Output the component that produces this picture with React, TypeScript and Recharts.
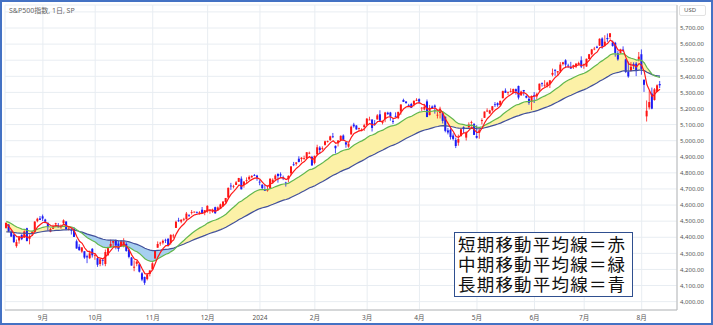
import React from "react";
import { Area, Bar, CartesianGrid, ComposedChart, Line, XAxis, YAxis } from "recharts";

type Ohlc = [number, number, number, number];

// closes before the visible range, used only to warm up the moving averages
const priorCloses = [
  4221, 4282, 4273, 4283, 4268, 4293, 4299, 4338, 4369, 4373, 4426, 4410, 4389, 4366, 4381, 4348, 4328, 4378,
  4376, 4396, 4450, 4455, 4447, 4412, 4399, 4410, 4439, 4472, 4510, 4505, 4523, 4555, 4566, 4535, 4536, 4554,
  4567, 4566, 4538, 4582, 4589, 4577, 4513, 4502, 4478, 4518, 4499, 4468, 4468, 4464,
];
const seedShort = 4190;
const seedMid = 4170;
const seedLong = 4130;

const SHORT_PERIOD = 5;
const MID_PERIOD = 20;
const LONG_PERIOD = 50;

// [open, high, low, close]
const aug2023: Ohlc[] = [
  [4458, 4490, 4453, 4490], [4479, 4482, 4432, 4437], [4434, 4449, 4403, 4404], [4416, 4421, 4365, 4370],
  [4345, 4386, 4335, 4370], [4380, 4407, 4360, 4400], [4415, 4418, 4382, 4388], [4397, 4443, 4397, 4436],
  [4456, 4459, 4375, 4376], [4390, 4418, 4356, 4406], [4427, 4440, 4412, 4433], [4433, 4500, 4431, 4497],
  [4500, 4521, 4493, 4515], [4517, 4532, 4507, 4508],
];
const sep2023: Ohlc[] = [
  [4530, 4541, 4501, 4516], [4510, 4515, 4487, 4497], [4490, 4491, 4442, 4465], [4434, 4458, 4431, 4451],
  [4452, 4478, 4452, 4457], [4481, 4490, 4468, 4487], [4473, 4488, 4461, 4462], [4462, 4479, 4453, 4467],
  [4487, 4511, 4479, 4505], [4498, 4498, 4447, 4450], [4445, 4466, 4442, 4454], [4445, 4457, 4417, 4444],
  [4452, 4462, 4402, 4402], [4375, 4386, 4329, 4330], [4341, 4357, 4316, 4320], [4311, 4338, 4303, 4337],
  [4313, 4313, 4266, 4274], [4282, 4292, 4239, 4275], [4270, 4317, 4264, 4300], [4328, 4333, 4274, 4288],
];
const oct2023: Ohlc[] = [
  [4284, 4300, 4260, 4288], [4270, 4281, 4216, 4229], [4234, 4268, 4220, 4263], [4259, 4267, 4225, 4258],
  [4234, 4324, 4220, 4308], [4289, 4341, 4283, 4336], [4339, 4385, 4339, 4358], [4366, 4378, 4346, 4377],
  [4380, 4386, 4325, 4349], [4360, 4377, 4311, 4327], [4343, 4383, 4343, 4374], [4345, 4394, 4337, 4373],
  [4358, 4369, 4310, 4315], [4321, 4340, 4269, 4278], [4274, 4277, 4224, 4224], [4211, 4256, 4189, 4217],
  [4235, 4255, 4220, 4248], [4232, 4233, 4181, 4186], [4176, 4183, 4127, 4137], [4153, 4156, 4104, 4117],
  [4140, 4178, 4132, 4167], [4172, 4194, 4157, 4194],
];
const nov2023: Ohlc[] = [
  [4201, 4245, 4197, 4238], [4268, 4320, 4268, 4318], [4335, 4374, 4335, 4358], [4365, 4372, 4347, 4366],
  [4366, 4386, 4355, 4378], [4384, 4391, 4364, 4383], [4391, 4393, 4344, 4347], [4364, 4418, 4354, 4415],
  [4406, 4421, 4394, 4411], [4458, 4503, 4458, 4496], [4505, 4521, 4495, 4503], [4497, 4511, 4487, 4509],
  [4510, 4521, 4500, 4514], [4512, 4557, 4510, 4547], [4539, 4542, 4526, 4538], [4553, 4569, 4541, 4556],
  [4555, 4560, 4553, 4559], [4555, 4561, 4547, 4550], [4546, 4562, 4541, 4555], [4571, 4588, 4547, 4551],
  [4554, 4569, 4537, 4568],
];
const dec2023: Ohlc[] = [
  [4559, 4599, 4552, 4595], [4569, 4575, 4546, 4569], [4557, 4578, 4551, 4567], [4587, 4590, 4546, 4549],
  [4568, 4591, 4566, 4585], [4577, 4609, 4575, 4604], [4593, 4623, 4590, 4622], [4619, 4644, 4611, 4644],
  [4647, 4709, 4643, 4707], [4721, 4738, 4694, 4719], [4714, 4726, 4704, 4719], [4725, 4749, 4725, 4741],
  [4744, 4769, 4743, 4768], [4764, 4778, 4697, 4698], [4724, 4748, 4708, 4746], [4753, 4772, 4737, 4755],
  [4759, 4784, 4758, 4775], [4773, 4786, 4768, 4781], [4786, 4793, 4780, 4783], [4783, 4788, 4751, 4770],
];
const jan2024: Ohlc[] = [
  [4745, 4755, 4723, 4743], [4726, 4730, 4699, 4705], [4698, 4727, 4688, 4689], [4690, 4722, 4683, 4697],
  [4704, 4765, 4700, 4764], [4742, 4766, 4731, 4757], [4760, 4791, 4756, 4783], [4793, 4798, 4739, 4780],
  [4791, 4803, 4769, 4784], [4772, 4783, 4755, 4766], [4740, 4745, 4715, 4739], [4760, 4785, 4741, 4781],
  [4797, 4842, 4785, 4840], [4853, 4868, 4842, 4851], [4856, 4866, 4845, 4865], [4888, 4903, 4865, 4868],
  [4886, 4898, 4869, 4894], [4888, 4907, 4881, 4891], [4892, 4929, 4887, 4928], [4925, 4932, 4916, 4925],
  [4899, 4906, 4845, 4846],
];
const feb2024: Ohlc[] = [
  [4862, 4907, 4853, 4906], [4916, 4975, 4907, 4959], [4957, 4966, 4918, 4942], [4951, 4965, 4939, 4954],
  [4974, 5000, 4969, 4996], [4996, 5001, 4988, 4998], [5004, 5031, 4998, 5027], [5027, 5048, 5016, 5022],
  [4968, 4970, 4920, 4953], [4984, 5003, 4964, 5001], [5004, 5033, 4999, 5030], [5032, 5039, 4999, 5006],
  [4990, 4993, 4956, 4976], [4963, 4984, 4956, 4982], [5039, 5094, 5038, 5087], [5100, 5111, 5081, 5089],
  [5094, 5097, 5068, 5070], [5074, 5081, 5058, 5078], [5067, 5077, 5058, 5069], [5085, 5105, 5061, 5096],
];
const mar2024: Ohlc[] = [
  [5098, 5140, 5094, 5137], [5131, 5149, 5128, 5131], [5131, 5134, 5057, 5079], [5109, 5128, 5092, 5105],
  [5132, 5165, 5131, 5157], [5164, 5189, 5117, 5124], [5111, 5125, 5101, 5118], [5134, 5179, 5115, 5175],
  [5174, 5180, 5160, 5165], [5175, 5179, 5124, 5150], [5123, 5136, 5104, 5117], [5154, 5176, 5145, 5149],
  [5140, 5180, 5134, 5179], [5182, 5225, 5161, 5225], [5253, 5261, 5240, 5241], [5243, 5246, 5229, 5234],
  [5220, 5229, 5216, 5218], [5228, 5235, 5203, 5204], [5226, 5249, 5213, 5248], [5248, 5264, 5246, 5254],
];
const apr2024: Ohlc[] = [
  [5258, 5263, 5230, 5243], [5204, 5208, 5184, 5205], [5194, 5229, 5189, 5211], [5244, 5256, 5146, 5147],
  [5159, 5222, 5157, 5204], [5212, 5219, 5197, 5202], [5218, 5225, 5168, 5210], [5161, 5178, 5138, 5161],
  [5172, 5211, 5138, 5199], [5171, 5176, 5107, 5123], [5149, 5150, 5052, 5061], [5064, 5079, 5039, 5051],
  [5068, 5077, 5007, 5022], [5032, 5046, 5001, 5011], [5005, 5019, 4954, 4967], [4988, 5038, 4969, 5010],
  [5028, 5076, 5027, 5071], [5084, 5089, 5048, 5072], [5019, 5058, 5001, 5048], [5084, 5114, 5073, 5100],
  [5114, 5124, 5088, 5116], [5103, 5110, 5035, 5036],
];
const may2024: Ohlc[] = [
  [5029, 5096, 5013, 5018], [5049, 5073, 5012, 5064], [5122, 5139, 5101, 5128], [5142, 5181, 5142, 5181],
  [5187, 5201, 5178, 5187], [5169, 5192, 5165, 5188], [5189, 5215, 5181, 5214], [5226, 5240, 5209, 5223],
  [5233, 5238, 5211, 5221], [5221, 5250, 5217, 5247], [5264, 5311, 5263, 5308], [5311, 5325, 5297, 5297],
  [5303, 5305, 5283, 5303], [5305, 5325, 5299, 5308], [5298, 5324, 5297, 5321], [5320, 5324, 5286, 5307],
  [5340, 5342, 5256, 5268], [5282, 5311, 5278, 5305], [5315, 5315, 5280, 5306], [5278, 5282, 5263, 5267],
  [5260, 5272, 5223, 5235], [5243, 5281, 5191, 5278],
];
const jun2024: Ohlc[] = [
  [5284, 5302, 5234, 5283], [5275, 5298, 5257, 5291], [5315, 5355, 5302, 5354], [5357, 5362, 5336, 5353],
  [5343, 5376, 5331, 5347], [5342, 5366, 5331, 5361], [5353, 5375, 5327, 5375], [5410, 5448, 5400, 5421],
  [5441, 5442, 5403, 5434], [5424, 5432, 5404, 5432], [5431, 5488, 5421, 5473], [5476, 5490, 5467, 5487],
  [5499, 5506, 5455, 5473], [5467, 5478, 5452, 5465], [5459, 5490, 5447, 5448], [5461, 5472, 5446, 5469],
  [5460, 5483, 5451, 5478], [5473, 5491, 5469, 5483], [5499, 5524, 5451, 5460],
];
const jul2024: Ohlc[] = [
  [5471, 5479, 5447, 5475], [5461, 5510, 5459, 5509], [5507, 5539, 5507, 5537], [5537, 5570, 5531, 5567],
  [5572, 5583, 5562, 5572], [5584, 5590, 5574, 5577], [5591, 5636, 5588, 5633], [5635, 5642, 5571, 5585],
  [5590, 5655, 5584, 5615], [5638, 5666, 5614, 5631], [5644, 5669, 5632, 5667], [5610, 5622, 5584, 5589],
  [5608, 5614, 5522, 5545], [5543, 5557, 5497, 5505], [5544, 5571, 5540, 5564], [5566, 5586, 5554, 5556],
  [5505, 5509, 5420, 5427], [5428, 5491, 5391, 5399], [5433, 5488, 5430, 5459], [5477, 5487, 5445, 5464],
  [5479, 5489, 5401, 5436], [5505, 5551, 5493, 5522],
];
const aug2024: Ohlc[] = [
  [5537, 5567, 5410, 5446], [5377, 5383, 5303, 5347], [5151, 5250, 5119, 5186], [5207, 5312, 5194, 5240],
  [5293, 5330, 5195, 5199], [5253, 5327, 5249, 5319], [5303, 5350, 5302, 5344], [5352, 5371, 5327, 5344],
];

// trading-day index of each month's first session, and its label
const monthTicks = [14, 34, 56, 77, 97, 118, 138, 158, 180, 202, 221, 243];
const monthLabels = ["9月", "10月", "11月", "12月", "2024", "2月", "3月", "4月", "5月", "6月", "7月", "8月"];
const priceTicks = [4000, 4100, 4200, 4300, 4400, 4500, 4600, 4700, 4800, 4900, 5000, 5100, 5200, 5300, 5400, 5500, 5600, 5700, 5800];
const legendLines = ["短期移動平均線＝赤", "中期移動平均線＝緑", "長期移動平均線＝青"];
const EMPTY_SLOTS = 6;

const candles: Ohlc[] = [
  ...aug2023, ...sep2023, ...oct2023, ...nov2023, ...dec2023, ...jan2024,
  ...feb2024, ...mar2024, ...apr2024, ...may2024, ...jun2024, ...jul2024, ...aug2024,
];

const ema = (prev: number, value: number, period: number) => prev + (2 / (period + 1)) * (value - prev);

function buildRows() {
  let s = seedShort;
  let m = seedMid;
  let l = seedLong;
  priorCloses.forEach((c) => {
    s = ema(s, c, SHORT_PERIOD);
    m = ema(m, c, MID_PERIOD);
    l = ema(l, c, LONG_PERIOD);
  });
  const rows: any[] = candles.map(([o, h, lo, c], i) => {
    s = ema(s, c, SHORT_PERIOD);
    m = ema(m, c, MID_PERIOD);
    l = ema(l, c, LONG_PERIOD);
    const top = Math.max(m, l);
    return {
      i, o, h, l: lo, c,
      range: [lo, h],
      short: s, mid: m, long: l,
      upBand: [l, top],
      downBand: [m, top],
    };
  });
  for (let k = 0; k < EMPTY_SLOTS; k++) rows.push({ i: candles.length + k });
  return rows;
}

const rows = buildRows();

const Candle = (props: any) => {
  const { x, y, width, height, payload } = props;
  if (!payload || payload.o == null) return null;
  const { o, h, l, c } = payload;
  const color = c >= o ? "#ff1414" : "#1c1cf5";
  const cx = x + width / 2;
  const span = h - l || 1;
  const py = (v: number) => y + ((h - v) / span) * height;
  const top = py(Math.max(o, c));
  const bot = py(Math.min(o, c));
  return (
    <g>
      <line x1={cx} x2={cx} y1={y} y2={y + height} stroke={color} strokeWidth={0.8} />
      <rect x={cx - 1} y={top} width={2} height={Math.max(bot - top, 0.8)} fill={color} />
    </g>
  );
};

const MonthTick = (props: any) => {
  const { x, y, payload } = props;
  const idx = monthTicks.indexOf(payload.value);
  return (
    <text x={x} y={y + 10} textAnchor="middle" fontSize={6.5} fill="#555">
      {monthLabels[idx]}
    </text>
  );
};

const PriceTick = (props: any) => {
  const { x, y, payload } = props;
  if (payload.value >= 5800) return null;
  return (
    <text x={x + 3} y={y + 2.2} textAnchor="start" fontSize={6} fill="#555">
      {payload.value.toLocaleString("en-US", { minimumFractionDigits: 2 })}
    </text>
  );
};

export default function App() {
  return (
    <div
      style={{
        position: "absolute",
        left: 0,
        top: 0,
        width: 713,
        height: 325,
        boxSizing: "border-box",
        border: "2px solid #4472c4",
        background: "#fff",
        fontFamily: "'Noto Sans', 'Noto Sans CJK JP', sans-serif",
      }}
    >
      <ComposedChart width={709} height={321} data={rows} margin={{ top: 3, right: 2, left: 3, bottom: 1 }}>
        <CartesianGrid stroke="#e8edf2" strokeWidth={1} />
        <XAxis
          dataKey="i"
          type="category"
          ticks={monthTicks}
          tick={<MonthTick />}
          tickLine={false}
          tickSize={0}
          tickMargin={0}
          height={12}
          axisLine={{ stroke: "#b8b8b8" }}
          interval={0}
        />
        <YAxis
          orientation="right"
          domain={[3948, 5843]}
          allowDataOverflow
          ticks={priceTicks}
          tick={<PriceTick />}
          tickLine={false}
          tickSize={0}
          tickMargin={0}
          width={32}
          axisLine={{ stroke: "#b8b8b8" }}
          interval={0}
        />
        <Area dataKey="upBand" type="linear" stroke="none" fill="#fcf1a7" fillOpacity={1} isAnimationActive={false} />
        <Area dataKey="downBand" type="linear" stroke="none" fill="#a7cff0" fillOpacity={1} isAnimationActive={false} />
        <Line dataKey="long" type="linear" stroke="#42509a" strokeWidth={1.2} dot={false} isAnimationActive={false} />
        <Line dataKey="mid" type="linear" stroke="#62b74e" strokeWidth={1.2} dot={false} isAnimationActive={false} />
        <Bar dataKey="range" barSize={2} shape={<Candle />} isAnimationActive={false} />
        <Line dataKey="short" type="linear" stroke="#ff1a1a" strokeWidth={1.2} dot={false} isAnimationActive={false} />
      </ComposedChart>

      <div style={{ position: "absolute", left: 7, top: 3, fontSize: 7, color: "#666", whiteSpace: "nowrap" }}>
        S&amp;P500指数, 1日, SP
      </div>
      <div
        style={{
          position: "absolute",
          left: 677,
          top: 3,
          width: 27,
          height: 11,
          boxSizing: "border-box",
          border: "1px solid #e2e2e2",
          borderRadius: 2,
          fontSize: 6,
          lineHeight: "9px",
          color: "#555",
          paddingLeft: 4,
        }}
      >
        USD
      </div>
      <div
        style={{
          position: "absolute",
          left: 452,
          top: 230,
          width: 179,
          height: 65,
          boxSizing: "border-box",
          border: "1.5px solid #2f4f8f",
          background: "#fff",
          fontFamily: "'Noto Sans CJK JP', sans-serif",
          fontSize: 17.5,
          lineHeight: "20px",
          letterSpacing: "1.2px",
          color: "#111",
          paddingLeft: 3,
          paddingTop: 1,
          whiteSpace: "nowrap",
        }}
      >
        {legendLines.map((t) => (
          <div key={t}>{t}</div>
        ))}
      </div>
    </div>
  );
}
